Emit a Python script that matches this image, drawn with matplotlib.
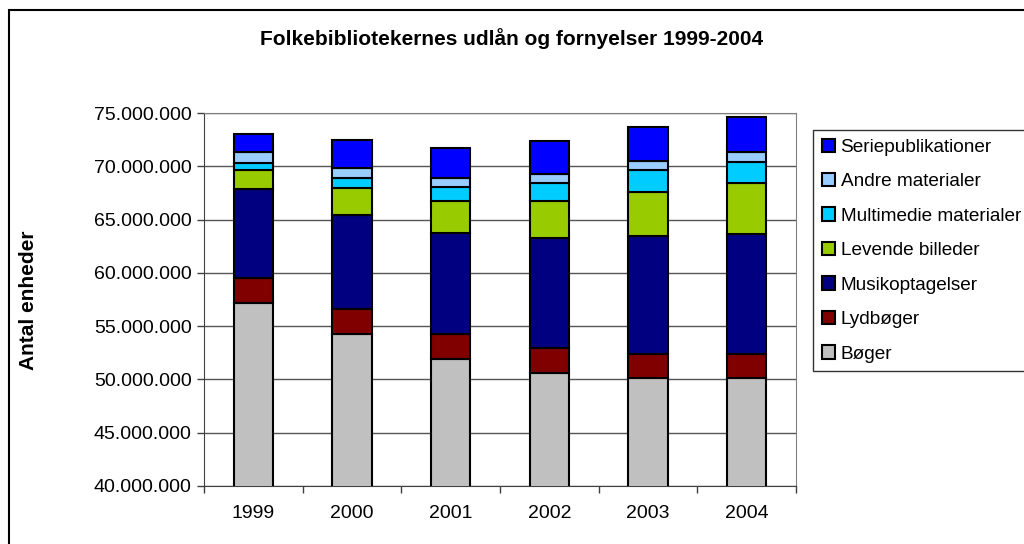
import matplotlib.pyplot as plt
from matplotlib.patches import Rectangle
from matplotlib.ticker import FuncFormatter, FixedLocator
import numpy as np

plt.rcParams['font.family'] = ['Liberation Sans', 'DejaVu Sans']

years = ['1999', '2000', '2001', '2002', '2003', '2004']

# millions (bottom to top in the stack)
boger = [57.20, 54.30, 51.95, 50.64, 50.10, 50.10]
lydboger = [2.35, 2.34, 2.35, 2.34, 2.25, 2.25]
musik = [8.28, 8.78, 9.47, 10.32, 11.10, 11.26]
levende = [1.79, 2.51, 2.97, 3.44, 4.13, 4.85]
multimedie = [0.72, 1.00, 1.35, 1.72, 2.04, 1.97]
andre = [0.99, 0.87, 0.78, 0.81, 0.84, 0.88]
serie = [1.69, 2.69, 2.81, 3.07, 3.22, 3.34]

series = [
    ('Bøger', boger, '#C0C0C0'),
    ('Lydbøger', lydboger, '#800000'),
    ('Musikoptagelser', musik, '#000080'),
    ('Levende billeder', levende, '#99CC00'),
    ('Multimedie materialer', multimedie, '#00CCFF'),
    ('Andre materialer', andre, '#99CCFF'),
    ('Seriepublikationer', serie, '#0000FF'),
]

fig = plt.figure(figsize=(10.24, 5.44), dpi=100)
ax = fig.add_axes([204 / 1024, 1 - 486 / 544, 592 / 1024, 373 / 544])

x = np.arange(len(years))
bottom = np.zeros(len(years))
handles = []
for name, vals, col in series:
    v = np.array(vals) * 1e6
    b = ax.bar(x, v, 0.4, bottom=bottom, color=col, edgecolor='black',
               linewidth=1.5, label=name, zorder=3)
    handles.append(b)
    bottom += v

ax.set_ylim(40e6, 75e6)
ax.set_xlim(-0.5, len(years) - 0.5)
ax.set_yticks(np.arange(40e6, 75.1e6, 5e6))
ax.yaxis.set_major_formatter(FuncFormatter(lambda v, p: f'{int(v):,}'.replace(',', '.')))
ax.yaxis.grid(True, color='#555555', linewidth=1, zorder=0)
ax.set_xticks(x)
ax.set_xticklabels(years)
ax.xaxis.set_minor_locator(FixedLocator(np.arange(-0.5, len(years), 1)))
ax.tick_params(axis='x', which='major', length=0, pad=14, labelsize=14)
ax.tick_params(axis='x', which='minor', length=5, width=1, color='#404040')
ax.tick_params(axis='y', length=5, width=1, labelsize=14, pad=4, color='#404040')

for s in ['top', 'right']:
    ax.spines[s].set_color('#808080')
for s in ['left', 'bottom']:
    ax.spines[s].set_color('#404040')

fig.text(28 / 1024, 1 - 300 / 544, 'Antal enheder', rotation=90, fontsize=15,
         fontweight='bold', ha='center', va='center')

fig.text(512 / 1024, 1 - 39 / 544,
         'Folkebibliotekernes udlån og fornyelser 1999-2004',
         fontsize=15, fontweight='bold', ha='center', va='center')

leg = fig.legend(handles[::-1], [s[0] for s in series][::-1],
                 loc='upper left', bbox_to_anchor=(813 / 1024, 1 - 130 / 544),
                 fontsize=13.7, frameon=True, fancybox=False, edgecolor='black',
                 handlelength=0.7, handleheight=0.7, handletextpad=0.3,
                 labelspacing=0.9, borderpad=0.45, borderaxespad=0)
leg.get_frame().set_linewidth(1)

fig.patches.append(Rectangle((9 / 1024, -0.1), 1.2, 1 - 10 / 544 + 0.1,
                             transform=fig.transFigure, fill=False,
                             edgecolor='black', linewidth=1.5))

fig.savefig('out.png', dpi=100)
